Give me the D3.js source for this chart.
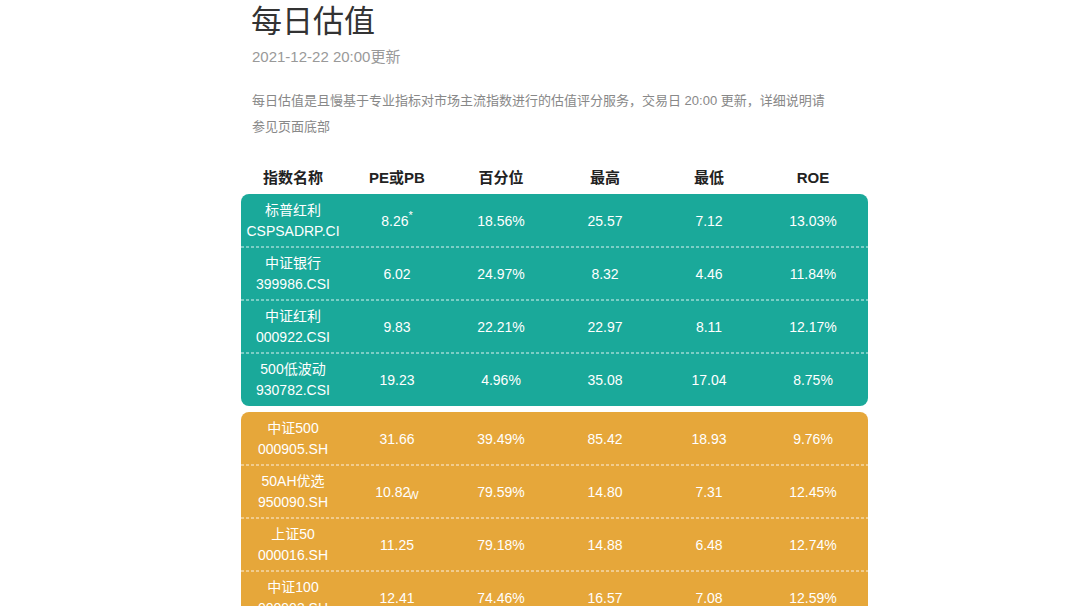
<!DOCTYPE html>
<html><head><meta charset="utf-8">
<script src="https://cdn.jsdelivr.net/npm/d3@7"></script>
<style>body{margin:0;background:#fff;font-family:"Liberation Sans","Noto Sans CJK SC",sans-serif}</style>
</head><body><div id="chart"></div>
<script>
"use strict";

const columns = ["指数名称", "PE或PB", "百分位", "最高", "最低", "ROE"];
const names = ["标普红利", "中证银行", "中证红利", "500低波动", "中证500", "50AH优选", "上证50", "中证100"];
const codes = ["CSPSADRP.CI", "399986.CSI", "000922.CSI", "930782.CSI", "000905.SH", "950090.SH", "000016.SH", "000903.SH"];
const peValues = ["8.26", "6.02", "9.83", "19.23", "31.66", "10.82", "11.25", "12.41"];
const peMarks = ["*", "", "", "", "", "W", "", ""];
const percentiles = ["18.56%", "24.97%", "22.21%", "4.96%", "39.49%", "79.59%", "79.18%", "74.46%"];
const highs = ["25.57", "8.32", "22.97", "35.08", "85.42", "14.80", "14.88", "16.57"];
const lows = ["7.12", "4.46", "8.11", "17.04", "18.93", "7.31", "6.48", "7.08"];
const roes = ["13.03%", "11.84%", "12.17%", "8.75%", "9.76%", "12.45%", "12.74%", "12.59%"];
const groups = [
  { name: "low", rows: [0, 1, 2, 3], color: "#1aa99a" },
  { name: "mid", rows: [4, 5, 6, 7], color: "#e6a73a" },
];

const W = 1080, H = 606;
const svg = d3.select("#chart").append("svg").attr("width", W).attr("height", H);

// Header texts
svg.append("text").attr("x", 251).attr("y", 32).attr("font-size", 31).attr("fill", "#333").text("每日估值");
svg.append("text").attr("x", 252).attr("y", 62).attr("font-size", 15).attr("fill", "#999").text("2021-12-22 20:00更新");
svg.append("text").attr("x", 252).attr("y", 105).attr("font-size", 13).attr("fill", "#888")
  .text("每日估值是且慢基于专业指标对市场主流指数进行的估值评分服务，交易日 20:00 更新，详细说明请");
svg.append("text").attr("x", 252).attr("y", 131).attr("font-size", 13).attr("fill", "#888").text("参见页面底部");

const LEFT = 241, RIGHT = 868;
const x = d3.scaleBand().domain(columns).range([LEFT, RIGHT - 3]);
const ROW_H = 53;
const GAP = 6;
const TOP = 194;
// row y positions: groups separated by a small gap
const rowY = (i) => TOP + i * ROW_H + (i >= 4 ? GAP : 0);

svg.selectAll("text.col").data(columns).enter().append("text")
  .attr("class", "col").attr("x", (d) => x(d) + x.bandwidth() / 2).attr("y", 183)
  .attr("text-anchor", "middle").attr("font-size", 15).attr("font-weight", "bold").attr("fill", "#222")
  .text((d) => d);

groups.forEach((g) => {
  const y0 = rowY(g.rows[0]);
  const y1 = rowY(g.rows[g.rows.length - 1]) + ROW_H;
  svg.append("rect").attr("x", LEFT).attr("y", y0).attr("width", RIGHT - LEFT).attr("height", y1 - y0)
    .attr("rx", 8).attr("fill", g.color);
  g.rows.slice(1).forEach((r) => {
    svg.append("line").attr("x1", LEFT).attr("x2", RIGHT).attr("y1", rowY(r)).attr("y2", rowY(r))
      .attr("stroke", "#fff").attr("stroke-opacity", 0.85).attr("stroke-dasharray", "3,2");
  });
});

const rows = d3.range(names.length);
const gRows = svg.selectAll("g.row").data(rows).enter().append("g")
  .attr("class", "row").attr("transform", (i) => `translate(0,${rowY(i) + ROW_H / 2})`)
  .attr("fill", "#fff").attr("font-size", 14).attr("text-anchor", "middle");

const cx = (c) => x(c) + x.bandwidth() / 2;
gRows.append("text").attr("x", cx(columns[0])).attr("y", -6).text((i) => names[i]);
gRows.append("text").attr("x", cx(columns[0])).attr("y", 15).text((i) => codes[i]);
const pe = gRows.append("text").attr("x", cx(columns[1])).attr("y", 5);
pe.append("tspan").text((i) => peValues[i]);
pe.append("tspan").attr("font-size", 11).attr("dy", (i) => (peMarks[i] === "*" ? -7 : 2))
  .attr("dx", (i) => (peMarks[i] === "W" ? -2 : 0))
  .text((i) => peMarks[i]);
[[percentiles, 2], [highs, 3], [lows, 4], [roes, 5]].forEach(([arr, c]) => {
  gRows.append("text").attr("x", cx(columns[c])).attr("y", 5).text((i) => arr[i]);
});
</script></body></html>
